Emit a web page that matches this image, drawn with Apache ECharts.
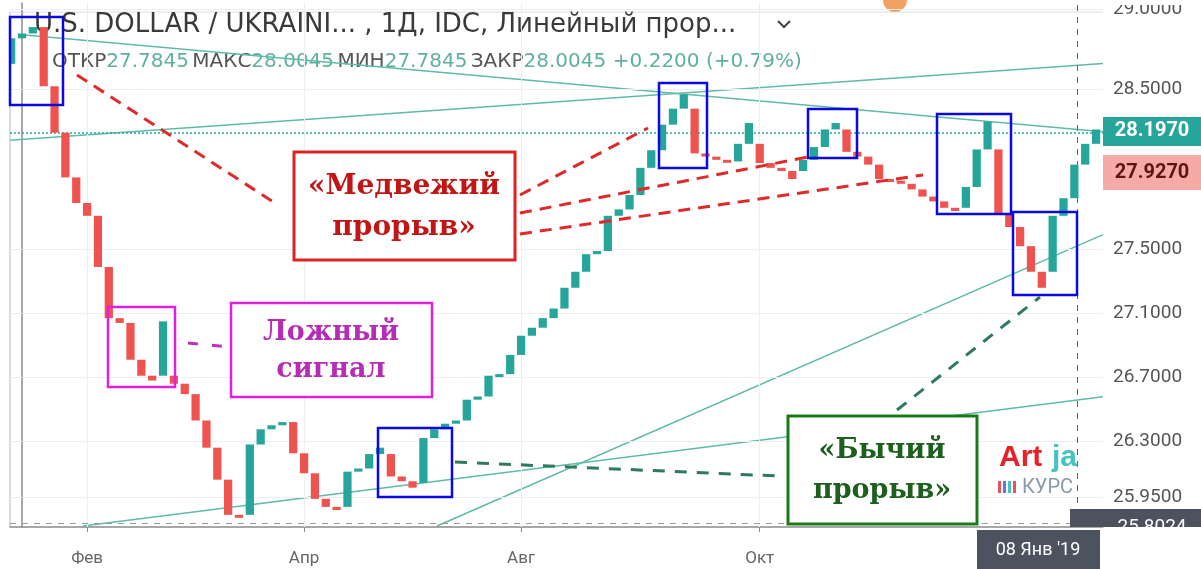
<!DOCTYPE html>
<html>
<head>
<meta charset="utf-8">
<script src="https://cdn.jsdelivr.net/npm/echarts@6/dist/echarts.min.js"></script>
<style>
html, body { margin: 0; padding: 0; background: #fff; }
#chart { width: 1201px; height: 569px; }
</style>
</head>
<body>
<div id="chart"></div>
<script>
// кирпичи графика "линейный прорыв" (открытие / закрытие)
var openVals = [
  28.66, 28.82, 28.85, 28.89, 28.52, 28.23, 27.95, 27.79, 27.71, 27.39,
  27.07, 27.04, 26.81, 26.71, 26.71, 26.71, 26.66, 26.595, 26.43, 26.26,
  26.06, 25.84, 25.84, 26.28, 26.375, 26.40, 26.42, 26.225, 26.10, 25.94,
  25.89, 25.89, 26.11, 26.13, 26.22, 26.22, 26.08, 26.05, 26.04, 26.32,
  26.375, 26.41, 26.43, 26.56, 26.58, 26.71, 26.72, 26.84, 26.96, 27.01,
  27.07, 27.13, 27.26, 27.36, 27.47, 27.49, 27.71, 27.75, 27.84, 28.01,
  28.12, 28.28, 28.38, 28.38, 28.10, 28.08, 28.06, 28.05, 28.16, 28.16,
  28.04, 28.01, 27.99, 27.99, 28.06, 28.14, 28.25, 28.25, 28.11, 28.08,
  28.03, 27.94, 27.93, 27.91, 27.875, 27.83, 27.80, 27.76, 27.76, 27.89,
  28.125, 28.125, 27.725, 27.64, 27.52, 27.36, 27.36, 27.71, 27.82, 28.03,
  28.16
];
var closeVals = [
  28.82, 28.85, 28.89, 28.52, 28.23, 27.95, 27.79, 27.71, 27.39, 27.07,
  27.04, 26.81, 26.71, 26.68, 27.05, 26.66, 26.595, 26.43, 26.26, 26.06,
  25.84, 25.825, 26.28, 26.375, 26.40, 26.42, 26.225, 26.10, 25.94, 25.89,
  25.87, 26.11, 26.13, 26.22, 26.26, 26.08, 26.05, 26.01, 26.32, 26.375,
  26.41, 26.43, 26.56, 26.58, 26.71, 26.72, 26.84, 26.96, 27.01, 27.07,
  27.13, 27.26, 27.36, 27.47, 27.49, 27.71, 27.75, 27.84, 28.01, 28.12,
  28.28, 28.38, 28.47, 28.10, 28.08, 28.06, 28.05, 28.16, 28.29, 28.04,
  28.01, 27.99, 27.94, 28.06, 28.14, 28.25, 28.29, 28.11, 28.08, 28.03,
  27.94, 27.93, 27.91, 27.875, 27.83, 27.80, 27.76, 27.74, 27.89, 28.125,
  28.30, 27.725, 27.64, 27.52, 27.36, 27.26, 27.71, 27.82, 28.03, 28.16,
  28.25
];
// первый кирпич обрезан краем графика
var brickIdx = openVals.map(function (v, k) { return k - 1 })

var xTicks = [6, 26, 46, 68];
var xTickLabels = ['Фев', 'Апр', 'Авг', 'Окт'];
var yTicks = [29.0, 28.5, 27.5, 27.1, 26.7, 26.3, 25.95];

// трендовые линии (индекс кирпича, цена)
var trendA = [[0, 28.842], [99.64, 28.235]];
var trendB = [[-1.106, 28.183], [99.64, 28.662]];
var trendC = [[38.26, 25.77], [99.64, 27.592]];
var trendD = [[5.62, 25.77], [99.64, 26.578]];

var lastPriceLine = 28.23;
var crossX = 97.25;
var crossY = 25.79;

var upColor = '#26a69a';
var downColor = '#ef5350';
var serif = '"DejaVu Serif", "Liberation Serif", serif';

var chart = echarts.init(document.getElementById('chart'));

function trendSeries(pts) {
  return {
    type: 'line',
    data: pts,
    showSymbol: false,
    silent: true,
    z: 3,
    lineStyle: { color: '#5fbaa9', width: 1.5 }
  }
}

function box(x, y, w, h, color, lw, fill) {
  return {
    type: 'rect', z: 100,
    shape: { x: x, y: y, width: w, height: h },
    style: { fill: fill || 'transparent', stroke: color, lineWidth: lw }
  }
}
function dash(x1, y1, x2, y2, color, lw, d) {
  return {
    type: 'line', z: 100,
    shape: { x1: x1, y1: y1, x2: x2, y2: y2 },
    style: { stroke: color, lineWidth: lw, lineDash: d }
  }
}
function label(x, y, txt, color, size) {
  return {
    type: 'text', z: 101, x: x, y: y,
    style: {
      text: txt, fill: color, font: 'bold ' + size + 'px ' + serif,
      align: 'center', verticalAlign: 'middle'
    }
  }
}

var option = {
  animation: false,
  backgroundColor: '#fff',
  grid: { left: 10, right: 98, top: 0, bottom: 42 },
  xAxis: {
    type: 'value',
    min: -1.106,
    max: 99.64,
    axisLine: { show: true, lineStyle: { color: '#8a8a8a', width: 1.5 } },
    axisTick: { show: true, customValues: xTicks, length: 5, lineStyle: { color: '#8a8a8a' } },
    axisLabel: {
      customValues: xTicks,
      margin: 23,
      fontSize: 17,
      color: '#666',
      fontFamily: 'Roboto, sans-serif',
      formatter: function (v) { return xTickLabels[xTicks.indexOf(v)] || '' }
    },
    splitLine: { show: false }
  },
  yAxis: {
    type: 'value',
    position: 'right',
    min: 25.764,
    max: 29.041,
    axisLine: { show: true, lineStyle: { color: '#8a8a8a', width: 1.5 } },
    axisTick: { show: true, customValues: yTicks, length: 6, lineStyle: { color: '#8a8a8a' } },
    axisLabel: {
      customValues: yTicks,
      margin: 10,
      fontSize: 19,
      color: '#555',
      fontFamily: 'Roboto, sans-serif',
      formatter: function (v) { return v.toFixed(4) }
    },
    splitLine: { show: false }
  },
  series: [
    {
      // бледная сетка
      type: 'line', data: [], silent: true, z: 1,
      markLine: {
        silent: true, symbol: 'none', label: { show: false },
        lineStyle: { color: '#eceef2', width: 1, type: 'solid' },
        data: xTicks.map(function (v) { return { xAxis: v } })
          .concat(yTicks.map(function (v) { return { yAxis: v } }))
      }
    },
    trendSeries(trendA),
    trendSeries(trendB),
    trendSeries(trendC),
    trendSeries(trendD),
    {
      type: 'line', data: [], silent: true, z: 3,
      markLine: {
        silent: true, symbol: 'none', label: { show: false },
        data: [
          { yAxis: lastPriceLine, lineStyle: { color: '#26a69a', width: 1.5, type: [2, 2] } },
          { yAxis: crossY, lineStyle: { color: '#9a9a9a', width: 1, type: [6, 6] } },
          { xAxis: crossX, lineStyle: { color: '#666', width: 1, type: [6, 6] } }
        ]
      }
    },
    {
      type: 'custom',
      clip: true,
      z: 5,
      encode: { x: 0, y: [1, 2] },
      data: brickIdx.map(function (x, k) { return [x, openVals[k], closeVals[k]] }),
      renderItem: function (params, api) {
        var i = api.value(0), o = api.value(1), c = api.value(2);
        var top = api.coord([i, Math.max(o, c)]);
        var bot = api.coord([i, Math.min(o, c)]);
        var w = api.size([1, 0])[0] * 0.76;
        var h = Math.max(bot[1] - top[1], 3);
        return {
          type: 'rect',
          shape: { x: top[0] - w / 2, y: top[1], width: w, height: h },
          style: { fill: c >= o ? upColor : downColor }
        }
      }
    }
  ],
  graphic: [
    // рамка панели
    { type: 'rect', z: 60, shape: { x: 1104, y: 0, width: 97, height: 5 }, style: { fill: '#fff' } },
    { type: 'line', z: 0, shape: { x1: 10, y1: 12, x2: 1103, y2: 12 }, style: { stroke: '#dedede', lineWidth: 1 } },
    { type: 'line', z: 0, shape: { x1: 10, y1: 12, x2: 10, y2: 527 }, style: { stroke: '#cfcfcf', lineWidth: 1.5 } },
    { type: 'circle', z: 0, shape: { cx: 895, cy: 0, r: 12 }, style: { fill: '#f4a261' } },
    // заголовок
    {
      type: 'text', z: 0, x: 34, y: 25,
      style: {
        text: 'U.S. DOLLAR / UKRAINI... , 1Д, IDC, Линейный прор...',
        font: '26px "DejaVu Sans", sans-serif', fill: '#3a3a3a', verticalAlign: 'middle'
      }
    },
    { type: 'polyline', z: 0, shape: { points: [[778, 21], [784, 27], [790, 21]] }, style: { stroke: '#444', lineWidth: 2, fill: 'none' } },
    {
      type: 'text', z: 0, x: 52, y: 62,
      style: {
        text: '{l|ОТКР}{v|27.7845} {l|МАКС}{v|28.0045} {l|МИН}{v|27.7845} {l|ЗАКР}{v|28.0045}  {v|+0.2200 (+0.79%)}',
        verticalAlign: 'middle',
        rich: {
          l: { font: '20px "DejaVu Sans", sans-serif', fill: '#555' },
          v: { font: '20px "DejaVu Sans", sans-serif', fill: '#5fb0a0' }
        }
      }
    },
    // метки цены на шкале
    { type: 'rect', z: 50, shape: { x: 1103, y: 155, width: 98, height: 35 }, style: { fill: '#f5aaa6' } },
    { type: 'text', z: 51, x: 1152, y: 173, style: { text: '27.9270', font: 'bold 20px Roboto, sans-serif', fill: '#5a1515', align: 'center', verticalAlign: 'middle' } },
    { type: 'rect', z: 50, shape: { x: 1103, y: 117, width: 98, height: 29 }, style: { fill: '#26a69a' } },
    { type: 'text', z: 51, x: 1152, y: 131, style: { text: '28.1970', font: 'bold 20px Roboto, sans-serif', fill: '#fff', align: 'center', verticalAlign: 'middle' } },
    { type: 'rect', z: 50, shape: { x: 1070, y: 509, width: 131, height: 18 }, style: { fill: '#4c525e' } },
    { type: 'text', z: 51, x: 1152, y: 527, style: { text: '25.8024', font: '19px Roboto, sans-serif', fill: '#fff', align: 'center', verticalAlign: 'middle' } },
    { type: 'rect', z: 52, shape: { x: 1104, y: 528, width: 97, height: 10 }, style: { fill: '#fff' } },
    { type: 'rect', z: 50, shape: { x: 977, y: 530, width: 123, height: 39 }, style: { fill: '#4c525e' } },
    { type: 'text', z: 51, x: 1038, y: 550, style: { text: "08 Янв '19", font: '18px Roboto, sans-serif', fill: '#fff', align: 'center', verticalAlign: 'middle' } },
    // водяной знак
    { type: 'text', z: 10, x: 999, y: 458, style: { text: 'Art', font: 'bold 30px "Liberation Sans Narrow", sans-serif', fill: '#e8202a', verticalAlign: 'middle' } },
    { type: 'text', z: 10, x: 1052, y: 458, style: { text: 'ja', font: 'bold 30px "Liberation Sans Narrow", sans-serif', fill: '#45c4bd', verticalAlign: 'middle' } },
    { type: 'rect', z: 10, shape: { x: 998, y: 481, width: 3, height: 12 }, style: { fill: '#e8505a' } },
    { type: 'rect', z: 10, shape: { x: 1003, y: 481, width: 3, height: 12 }, style: { fill: '#5a7ae0' } },
    { type: 'rect', z: 10, shape: { x: 1008, y: 481, width: 3, height: 12 }, style: { fill: '#45c4bd' } },
    { type: 'rect', z: 10, shape: { x: 1013, y: 481, width: 3, height: 12 }, style: { fill: '#e8505a' } },
    { type: 'text', z: 10, x: 1022, y: 488, style: { text: 'КУРС', font: '20px Roboto, sans-serif', fill: '#8a9aa6', verticalAlign: 'middle' } },

    // синие рамки
    box(10, 17, 53, 88, '#0a0ae0', 2.5),
    box(378, 428, 74, 69, '#0a0ae0', 2.5),
    box(659, 83, 48, 85, '#0a0ae0', 2.5),
    box(808, 109, 49, 49, '#0a0ae0', 2.5),
    box(937, 114, 74, 100, '#0a0ae0', 2.5),
    box(1013, 212, 64, 83, '#0a0ae0', 2.5),
    // ложный сигнал
    box(108, 307, 67, 80, '#e020e0', 2.5),
    dash(188, 343, 230, 347, '#c030c0', 3, [10, 14]),
    box(231, 303, 201, 94, '#e020e0', 2.5, '#fff'),
    label(331, 333, 'Ложный', '#b52db5', 27),
    label(331, 370, 'сигнал', '#b52db5', 27),
    // медвежий прорыв
    dash(77, 75, 278, 205, '#e02a2a', 3, [12, 8]),
    dash(520, 195, 648, 128, '#e02a2a', 3, [12, 8]),
    dash(520, 213, 808, 157, '#e02a2a', 3, [12, 8]),
    dash(520, 234, 923, 175, '#e02a2a', 3, [12, 8]),
    box(294, 152, 221, 108, '#dd2222', 3, '#fff'),
    label(404, 187, '«Медвежий', '#c21515', 28),
    label(404, 228, 'прорыв»', '#c21515', 28),
    // бычий прорыв
    dash(455, 462, 778, 476, '#2f7a5c', 3, [12, 10]),
    dash(897, 410, 1040, 297, '#2f7a5c', 3, [12, 10]),
    box(788, 416, 189, 108, '#1a7a1a', 3, '#fff'),
    label(882, 451, '«Бычий', '#1d5f1d', 27),
    label(882, 491, 'прорыв»', '#1d5f1d', 27)
  ]
};

chart.setOption(option);
</script>
</body>
</html>
